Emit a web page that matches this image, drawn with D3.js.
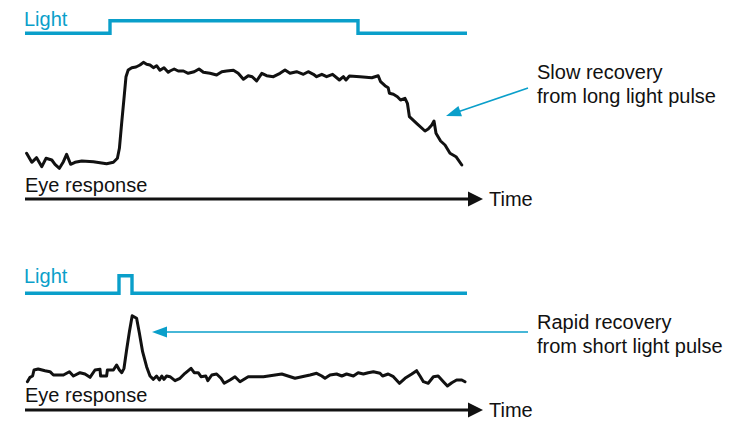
<!DOCTYPE html>
<html>
<head>
<meta charset="utf-8">
<script src="https://cdn.jsdelivr.net/npm/d3@7"></script>
<style>
  body { margin: 0; background: #fff; }
  svg { display: block; }
  text { font-family: "Liberation Sans", Arial, sans-serif; font-size: 20px; }
</style>
</head>
<body>
<div id="chart"></div>
<script>
// time in arbitrary units, response in % of full response, light 0 = off, 1 = on
var topLight = [[0, 0], [21.25, 1], [83.25, 0], [110.5, 0]];
var bottomLight = [[0, 0], [23.5, 1], [26.75, 0], [110.5, 0]];

var topResponse = [
  [0.4, 11.7], [1.7, 2.7], [2.9, 7.3], [4.2, -1.7], [5.25, 6.7], [6.7, 5], [7.5, 0.7], [8.6, -3.3],
  [9.6, 3.3], [10.4, 10.7], [11.4, 0.7], [12.5, 2.7], [14.2, 4], [17.1, 3.3], [20.4, 1.3], [22.1, 2.7],
  [23.1, 6.7], [23.6, 16.7], [24.2, 43.3], [24.75, 66.7], [25.25, 88.3], [25.8, 95], [26.7, 97.3],
  [27.75, 98], [28.75, 100], [29.6, 102.7], [30.4, 100.7], [31.25, 100], [32.1, 97.3], [32.9, 99.3],
  [33.75, 94.7], [34.75, 97.3], [35.8, 92.7], [36.25, 94], [37.3, 96], [38.3, 94], [39.6, 94],
  [40.8, 91.7], [42.3, 93.3], [43.5, 96], [44.6, 92.7], [46.25, 91.7], [47.9, 90], [49.2, 93.3],
  [50.4, 94], [52.1, 94.7], [53.3, 91.7], [54.6, 85.7], [55.8, 89.3], [56.8, 88.3], [57.9, 84],
  [59.2, 91.7], [60.4, 89.3], [62.1, 88.3], [63.75, 91.7], [65, 95], [66.25, 91.7], [67.9, 93.3],
  [69.6, 90.7], [70.8, 93.3], [72.1, 90.7], [72.9, 88.3], [74.2, 90.7], [75.4, 88.3], [76.9, 90.7],
  [78.6, 85], [79.6, 88.3], [80.25, 85], [81.1, 89], [83.75, 88.3], [86.7, 87.3], [88.3, 89.3],
  [88.9, 83.3], [90, 79.3], [90.8, 77.3], [91.1, 71.7], [92.1, 70.7], [93.1, 68.3], [93.9, 65],
  [95, 66.7], [95.6, 61.7], [96.1, 48.3], [97.9, 41.7], [100, 34], [100.8, 36], [101.7, 40],
  [102.25, 44], [102.75, 31.7], [103.9, 24], [105, 20], [106.25, 11.7], [107.75, 8.3], [109.2, 0]
];

var bottomResponse = [
  [0.6, 3.3], [1.25, 7.7], [1.9, 9], [2.25, 15], [3.3, 16], [5, 14.3], [6.25, 13.3], [7.1, 10],
  [9.6, 10], [11.1, 13.3], [12.1, 9], [13.75, 12.3], [15, 11], [16.25, 7.7], [17.5, 15], [18.75, 15.7],
  [18.9, 9], [20.4, 9], [20.6, 15], [22.1, 15], [22.9, 20], [23.6, 15], [24.2, 12.3], [24.75, 16.7],
  [25.4, 35], [26.1, 53.3], [26.8, 69.3], [27.9, 66.7], [28.6, 51.7], [29.4, 33.3], [30.4, 18.3],
  [31.25, 9], [32.1, 5.7], [32.9, 9], [33.6, 5], [34.2, 9], [34.75, 5.7], [35.4, 9], [36.25, 8.3],
  [37.5, 4.3], [38.75, 6.7], [40, 11.7], [41.5, 16.7], [42.3, 12.3], [43.3, 12.3], [44, 8.3],
  [45.2, 9], [45.7, 4.3], [46.7, 10], [47.9, 11], [49, 6.7], [49.8, 1.7], [51.25, 5], [52.5, 8.3],
  [53.75, 3.3], [55.8, 8.3], [59.6, 8.3], [64.2, 11], [67.5, 6.7], [71.25, 10], [72.9, 11.7],
  [74.2, 9], [75, 6.7], [76.25, 10], [77.9, 11], [79.2, 9], [80.4, 11], [82.1, 9], [83.3, 12.3],
  [84.6, 11], [85.8, 12.3], [87.1, 13.3], [88.75, 11.7], [89.4, 9], [90.8, 11], [92.1, 8.3],
  [93.6, 1.7], [95, 6.7], [96.7, 11], [97.9, 14.3], [98.75, 9], [99.6, 3.3], [100.8, 1.7],
  [102.1, 8.3], [103.3, 9], [104.6, 3.3], [105.6, -1], [106.7, 2.3], [107.9, 5], [109.2, 5], [110, 3.3]
];

var topNote = ["Slow recovery", "from long light pulse"];
var bottomNote = ["Rapid recovery", "from short light pulse"];

var width = 730, height = 422;
var teal = "#0a9fca", ink = "#111";

var svg = d3.select("#chart").append("svg")
  .attr("width", width)
  .attr("height", height);

var x = d3.scaleLinear().domain([0, 100]).range([25, 425]);

function drawPanel(p) {
  var g = svg.append("g");
  var yLight = d3.scaleLinear().domain([0, 1]).range([p.lightLow, p.lightHigh]);
  var y = d3.scaleLinear().domain([0, 100]).range([p.base, p.base - 100]);

  g.append("text").attr("x", 24).attr("y", p.lightLabelY)
    .attr("fill", teal).text("Light");

  g.append("path")
    .datum(p.light)
    .attr("fill", "none")
    .attr("stroke", teal)
    .attr("stroke-width", 3.4)
    .attr("d", d3.line().x(function(d) { return x(d[0]); }).y(function(d) { return yLight(d[1]); })
      .curve(d3.curveStepAfter));

  g.append("path")
    .datum(p.response)
    .attr("fill", "none")
    .attr("stroke", ink)
    .attr("stroke-width", 3)
    .attr("stroke-linejoin", "round")
    .attr("stroke-linecap", "round")
    .attr("d", d3.line().x(function(d) { return x(d[0]); }).y(function(d) { return y(d[1]); }));

  g.append("text").attr("x", 25).attr("y", p.eyeLabelY)
    .attr("fill", ink).text("Eye response");

  // time axis with arrow head
  var tipT = 114.5, headLen = 15, headHalf = 7.5;
  g.append("line")
    .attr("x1", x(0)).attr("x2", x(tipT) - headLen + 2)
    .attr("y1", p.axisY).attr("y2", p.axisY)
    .attr("stroke", ink).attr("stroke-width", 3);
  g.append("path")
    .attr("fill", ink)
    .attr("d", "M" + x(tipT) + "," + p.axisY +
      "L" + (x(tipT) - headLen) + "," + (p.axisY - headHalf) +
      "L" + (x(tipT) - headLen) + "," + (p.axisY + headHalf) + "Z");
  g.append("text").attr("x", x(116)).attr("y", p.axisY + 7)
    .attr("fill", ink).text("Time");

  // annotation arrow
  var x1 = x(p.arrow[0][0]), y1 = y(p.arrow[0][1]);
  var x2 = x(p.arrow[1][0]), y2 = y(p.arrow[1][1]);
  var ang = Math.atan2(y2 - y1, x2 - x1), hl = 15, hw = 5.5;
  var bx = x2 - hl * Math.cos(ang), by = y2 - hl * Math.sin(ang);
  g.append("line")
    .attr("x1", x1).attr("y1", y1).attr("x2", bx + 2 * Math.cos(ang)).attr("y2", by + 2 * Math.sin(ang))
    .attr("stroke", teal).attr("stroke-width", 1.6);
  g.append("path")
    .attr("fill", teal)
    .attr("d", "M" + x2 + "," + y2 +
      "L" + (bx + hw * Math.sin(ang)) + "," + (by - hw * Math.cos(ang)) +
      "L" + (bx - hw * Math.sin(ang)) + "," + (by + hw * Math.cos(ang)) + "Z");

  g.selectAll("text.note").data(p.note).enter()
    .append("text").attr("class", "note")
    .attr("x", x(128)).attr("y", function(d, i) { return p.noteY + i * 23.3; })
    .attr("fill", ink).text(function(d) { return d; });
}

drawPanel({
  light: topLight, response: topResponse, note: topNote,
  lightLow: 33.3, lightHigh: 20.7, lightLabelY: 26,
  base: 165, eyeLabelY: 191.5, axisY: 199,
  arrow: [[125.75, 77], [105.25, 49]], noteY: 79.3
});

drawPanel({
  light: bottomLight, response: bottomResponse, note: bottomNote,
  lightLow: 293.3, lightHigh: 275.8, lightLabelY: 283.3,
  base: 385, eyeLabelY: 401.7, axisY: 410,
  arrow: [[125.75, 53], [31.75, 53]], noteY: 329.3
});
</script>
</body>
</html>
